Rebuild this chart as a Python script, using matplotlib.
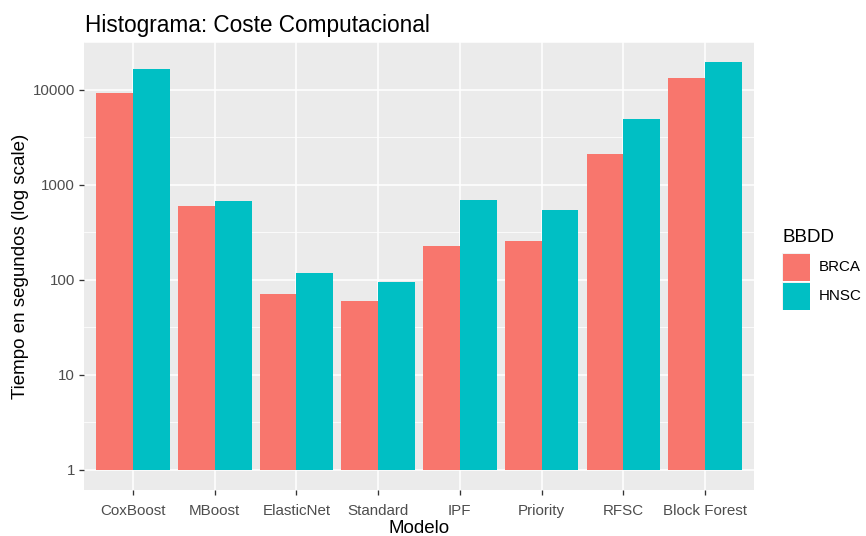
import numpy as np
import matplotlib
matplotlib.use("Agg")
import matplotlib.pyplot as plt
from matplotlib.patches import Rectangle
from matplotlib.ticker import FixedLocator, NullFormatter

plt.rcParams['font.family'] = ['Liberation Sans', 'DejaVu Sans']

modelos = ["CoxBoost", "MBoost", "ElasticNet", "Standard", "IPF", "Priority", "RFSC", "Block Forest"]
brca = [9200, 600, 70, 60, 225, 255, 2100, 13400]
hnsc = [16400, 670, 118, 95, 690, 545, 4900, 19400]
grupos = ["BRCA", "HNSC"]
colores = ["#F8766D", "#00BFC4"]
y_ticks = [1, 10, 100, 1000, 10000]
y_tick_labels = ["1", "10", "100", "1000", "10000"]

W, H = 866, 536
fig = plt.figure(figsize=(W / 100, H / 100), dpi=100)
left, right, top, bottom = 84, 754, 42, 490
ax = fig.add_axes([left / W, 1 - bottom / H, (right - left) / W, (bottom - top) / H])
ax.set_facecolor("#EBEBEB")
for s in ax.spines.values():
    s.set_visible(False)

x = np.arange(1, len(modelos) + 1)
bw = 0.45
for vals, off, col in zip([brca, hnsc], [-bw / 2, bw / 2], colores):
    v = np.asarray(vals, dtype=float)
    ax.bar(x + off, v - 1, bottom=1, width=bw, color=col, linewidth=0, zorder=3)

ax.set_yscale("log")
hi = np.log10(max(max(brca), max(hnsc)))
pad = 0.05 * hi
ax.set_ylim(10 ** (-pad), 10 ** (hi + pad))
ax.set_xlim(0.4, len(modelos) + 0.6)

ax.yaxis.set_major_locator(FixedLocator(y_ticks))
ax.set_yticklabels(y_tick_labels)
minor = [10 ** (k + 0.5) for k in range(0, 5) if k + 0.5 < hi + pad]
ax.yaxis.set_minor_locator(FixedLocator(minor))
ax.yaxis.set_minor_formatter(NullFormatter())
ax.set_xticks(x)
ax.set_xticklabels(modelos)

ax.grid(True, which="major", color="white", linewidth=1.1, zorder=0)
ax.grid(True, which="minor", axis="y", color="white", linewidth=0.55, zorder=0)
ax.set_axisbelow(True)
ax.tick_params(axis="both", which="major", length=3.6, width=0.95, color="#333333",
               labelcolor="#4D4D4D", labelsize=10.9)
ax.tick_params(axis="x", which="major", pad=6.5)
ax.tick_params(axis="y", which="major", pad=3)
ax.tick_params(axis="y", which="minor", length=0)

ax.set_xlabel("Modelo", fontsize=13.5, color="black", labelpad=1.5)
ax.set_ylabel("Tiempo en segundos (log scale)", fontsize=13.5, color="black", labelpad=2.5)
ax.set_title("Histograma: Coste Computacional", fontsize=16.3, loc="left",
             x=(85 - left) / (right - left), pad=7)

# legend
def fx(px):
    return px / W

def fy(py):
    return 1 - py / H

fig.text(fx(782), fy(238), "BBDD", fontsize=13.5, ha="left", va="center")
ks = 28
for i, (g, col) in enumerate(zip(grupos, colores)):
    y0 = 253 + i * (ks + 1)
    fig.add_artist(Rectangle((fx(782), fy(y0 + ks)), ks / W, ks / H,
                             transform=fig.transFigure, facecolor="#F2F2F2", edgecolor="none"))
    fig.add_artist(Rectangle((fx(782.5), fy(y0 + ks - 0.5)), (ks - 1) / W, (ks - 1) / H,
                             transform=fig.transFigure, facecolor=col, edgecolor="none"))
    fig.text(fx(819), fy(y0 + ks / 2), g, fontsize=10.9, ha="left", va="center")

fig.savefig("out.png", dpi=100, facecolor="white")
